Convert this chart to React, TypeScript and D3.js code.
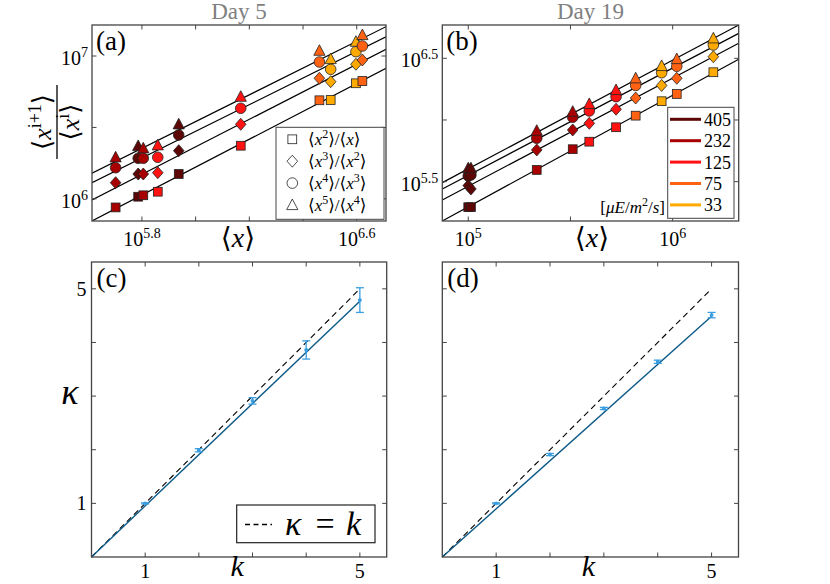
import React from "react";
import * as d3 from "d3";

const FONT = "'Liberation Serif','DejaVu Serif',serif";

// Light intensity levels [µE/m²/s] and their colours
const lightLevels = [405, 232, 125, 75, 33];
const lightColors = ["#5c0606", "#a80000", "#ff1212", "#ff6212", "#ffaa00"];

// Panel (a) – Day 5 : log10 <x> and log10 of the moment ratios
const day5Light = [232, 405, 232, 125, 405, 125, 75, 33, 33, 75];
const day5LogX = [5.702, 5.786, 5.805, 5.859, 5.937, 6.168, 6.461, 6.503, 6.597, 6.621];
const day5LogR2 = [5.94, 6.015, 6.025, 6.05, 6.174, 6.372, 6.69, 6.692, 6.809, 6.825];
const day5LogR3 = [6.113, 6.174, 6.174, 6.183, 6.337, 6.522, 6.844, 6.82, 6.942, 6.972];
const day5LogR4 = [6.218, 6.284, 6.284, 6.291, 6.447, 6.634, 6.958, 6.907, 7.03, 7.07];
const day5LogR5 = [6.291, 6.37, 6.354, 6.375, 6.522, 6.715, 7.037, 6.979, 7.1, 7.147];
// fitted lines: log10 y = a + b log10 x
const day5FitA = [0.366, 0.586, 0.875, 0.919];
const day5FitB = [0.976, 0.963, 0.933, 0.937];

// Panel (b) – Day 19
const day19Light = [405, 405, 232, 232, 125, 125, 75, 33, 75, 33];
const day19LogX = [5.0, 5.013, 5.335, 5.511, 5.592, 5.723, 5.819, 5.946, 6.02, 6.199];
const day19LogR2 = [5.293, 5.293, 5.595, 5.763, 5.824, 5.941, 6.035, 6.152, 6.211, 6.387];
const day19LogR3 = [5.468, 5.441, 5.757, 5.919, 5.973, 6.087, 6.178, 6.28, 6.338, 6.513];
const day19LogR4 = [5.546, 5.554, 5.852, 6.022, 6.073, 6.189, 6.28, 6.383, 6.435, 6.608];
const day19LogR5 = [5.609, 5.609, 5.913, 6.067, 6.13, 6.243, 6.338, 6.438, 6.494, 6.662];
const day19FitA = [0.776, 1.083, 1.201, 1.199];
const day19FitB = [0.904, 0.876, 0.87, 0.881];

const ratioNum = ["2", "3", "4", "5"];
const ratioDen = ["", "2", "3", "4"];
const markerShapes = ["square", "diamond", "circle", "triangle"];

// Panels (c), (d)
const kValues = [1, 2, 3, 4, 5];
const kappaDay5 = [1.0, 1.99, 2.91, 3.86, 4.79];
const kappaErrDay5 = [0.01, 0.03, 0.06, 0.17, 0.23];
const kappaDay19 = [1.0, 1.91, 2.77, 3.64, 4.51];
const kappaErrDay19 = [0.01, 0.02, 0.02, 0.03, 0.05];
const kappaFitSlope = [0.954, 0.898];

const FRAME = "#444";

type Box = { x0: number; x1: number; y0: number; y1: number };

function Marker({ shape, cx, cy, fill }: { shape: string; cx: number; cy: number; fill: string }) {
  const st = { fill, stroke: "#222", strokeWidth: 0.8 };
  if (shape === "square") return <rect x={cx - 4.4} y={cy - 4.4} width={8.8} height={8.8} {...st} />;
  if (shape === "diamond")
    return <path d={`M${cx},${cy - 6}L${cx + 5.3},${cy}L${cx},${cy + 6}L${cx - 5.3},${cy}Z`} {...st} />;
  if (shape === "circle") return <circle cx={cx} cy={cy} r={5.3} {...st} />;
  return <path d={`M${cx},${cy - 6}L${cx + 5.6},${cy + 4.6}L${cx - 5.6},${cy + 4.6}Z`} {...st} />;
}

function Frame({ box, xt, yt }: { box: Box; xt: number[]; yt: number[] }) {
  const L = 4.5;
  return (
    <g stroke={FRAME} strokeWidth={1}>
      {xt.map((x, i) => (
        <g key={"x" + i}>
          <line x1={x} x2={x} y1={box.y1} y2={box.y1 - L} />
          <line x1={x} x2={x} y1={box.y0} y2={box.y0 + L} />
        </g>
      ))}
      {yt.map((y, i) => (
        <g key={"y" + i}>
          <line x1={box.x0} x2={box.x0 + L} y1={y} y2={y} />
          <line x1={box.x1} x2={box.x1 - L} y1={y} y2={y} />
        </g>
      ))}
      <rect x={box.x0} y={box.y0} width={box.x1 - box.x0} height={box.y1 - box.y0} fill="none" strokeWidth={1.3} />
    </g>
  );
}

function PowLabel({ x, y, exp, anchor }: { x: number; y: number; exp: string; anchor: string }) {
  return (
    <text x={x} y={y} textAnchor={anchor} fontFamily={FONT} fontSize={20} fill="#000">
      10
      <tspan dy={-8} fontSize={14}>
        {exp}
      </tspan>
    </text>
  );
}

function AngleX({ x, y, size }: { x: number; y: number; size: number }) {
  return (
    <text x={x} y={y} textAnchor="middle" fontFamily={FONT} fontSize={size}>
      ⟨<tspan fontStyle="italic">x</tspan>⟩
    </text>
  );
}

function LogPanel(props: {
  id: string;
  box: Box;
  xDom: [number, number];
  yDom: [number, number];
  xTicks: number[];
  xLabels: number[];
  yTicks: number[];
  yLabels: number[];
  light: number[];
  logX: number[];
  ratios: number[][];
  fitA: number[];
  fitB: number[];
  tag: string;
  title: string;
}) {
  const { box } = props;
  const xs = d3.scaleLog().domain(props.xDom.map((v) => 10 ** v)).range([box.x0, box.x1]);
  const ys = d3.scaleLog().domain(props.yDom.map((v) => 10 ** v)).range([box.y1, box.y0]);
  const colorOf = (l: number) => lightColors[lightLevels.indexOf(l)];
  return (
    <g>
      <defs>
        <clipPath id={"clip" + props.id}>
          <rect x={box.x0} y={box.y0} width={box.x1 - box.x0} height={box.y1 - box.y0} />
        </clipPath>
      </defs>
      <text x={(box.x0 + box.x1) / 2} y={19} textAnchor="middle" fontFamily={FONT} fontSize={23} fill="#808080">
        {props.title}
      </text>
      <g clipPath={`url(#clip${props.id})`}>
        {props.fitA.map((a, s) => {
          const lx = [props.xDom[0], props.xDom[1]];
          const pts = lx.map((v) => [xs(10 ** v), ys(10 ** (a + props.fitB[s] * v))] as [number, number]);
          return <path key={s} d={d3.line()(pts) || ""} stroke="#000" strokeWidth={1.2} fill="none" />;
        })}
      </g>
      {props.logX.map((lx, g) => (
        <g key={g}>
          {props.ratios.map((r, s) => (
            <Marker
              key={s}
              shape={markerShapes[s]}
              cx={xs(10 ** lx)}
              cy={ys(10 ** r[g])}
              fill={colorOf(props.light[g])}
            />
          ))}
        </g>
      ))}
      <Frame box={box} xt={props.xTicks.map((v) => xs(10 ** v))} yt={props.yTicks.map((v) => ys(10 ** v))} />
      {props.xLabels.map((v, i) => (
        <PowLabel key={"xl" + i} x={xs(10 ** v)} y={box.y1 + 25} exp={String(v)} anchor="middle" />
      ))}
      {props.yLabels.map((v, i) => (
        <PowLabel key={"yl" + i} x={box.x0 - 4} y={ys(10 ** v) + 9} exp={String(v)} anchor="end" />
      ))}
      <text x={box.x0 + 4} y={box.y0 + 25} fontFamily={FONT} fontSize={27}>
        {props.tag}
      </text>
    </g>
  );
}

function LinPanel(props: {
  id: string;
  box: Box;
  kappa: number[];
  err: number[];
  slope: number;
  tag: string;
  yLabels: boolean;
}) {
  const { box } = props;
  const xs = d3.scaleLinear().domain([0, 5.5]).range([box.x0, box.x1]);
  const ys = d3.scaleLinear().domain([0, 5.5]).range([box.y1, box.y0]);
  const fitPts: [number, number][] = [0, 5].map((k) => [xs(k), ys(props.slope * k)]);
  const idPts: [number, number][] = [0, 5].map((k) => [xs(k), ys(k)]);
  const ln = d3.line();
  const ebColor = "#3a9ee0";
  return (
    <g>
      <path d={ln(idPts) || ""} stroke="#000" strokeWidth={1.1} strokeDasharray="6,4" fill="none" />
      <path d={ln(fitPts) || ""} stroke="#0d5a88" strokeWidth={1.4} fill="none" />
      {kValues.map((k, i) => {
        const x = xs(k);
        const yt = ys(props.kappa[i] + props.err[i]);
        const yb = ys(props.kappa[i] - props.err[i]);
        return (
          <g key={i} stroke={ebColor} strokeWidth={1.3}>
            <line x1={x} x2={x} y1={yt} y2={yb} />
            <line x1={x - 4} x2={x + 4} y1={yt} y2={yt} />
            <line x1={x - 4} x2={x + 4} y1={yb} y2={yb} />
            <circle cx={x} cy={ys(props.kappa[i])} r={1.3} fill={ebColor} />
          </g>
        );
      })}
      <Frame box={box} xt={kValues.map((k) => xs(k))} yt={kValues.map((k) => ys(k))} />
      {[1, 5].map((k) => (
        <text key={"xl" + k} x={xs(k)} y={box.y1 + 21} textAnchor="middle" fontFamily={FONT} fontSize={20}>
          {k}
        </text>
      ))}
      {props.yLabels &&
        [1, 5].map((k) => (
          <text key={"yl" + k} x={box.x0 - 5} y={ys(k) + 7} textAnchor="end" fontFamily={FONT} fontSize={20}>
            {k}
          </text>
        ))}
      <text x={(box.x0 + box.x1) / 2 - 2} y={576} textAnchor="middle" fontFamily={FONT} fontSize={30} fontStyle="italic">
        k
      </text>
      <text x={box.x0 + 5} y={box.y0 + 25} fontFamily={FONT} fontSize={27}>
        {props.tag}
      </text>
    </g>
  );
}

export default function App() {
  const boxA: Box = { x0: 92, x1: 386, y0: 25, y1: 221 };
  const boxB: Box = { x0: 442.3, x1: 738.7, y0: 25, y1: 221 };
  const boxC: Box = { x0: 91.5, x1: 386.7, y0: 262, y1: 557 };
  const boxD: Box = { x0: 442.3, x1: 738.5, y0: 262, y1: 557 };
  return (
    <svg width={830} height={584} style={{ position: "absolute", left: 0, top: 0, background: "#fff" }}>
      <rect width={830} height={584} fill="#fff" />
      <LogPanel
        id="a"
        box={boxA}
        xDom={[5.614, 6.709]}
        yDom={[5.845, 7.217]}
        xTicks={[5.8, 6.0, 6.2, 6.4, 6.6]}
        xLabels={[5.8, 6.6]}
        yTicks={[6, 6.5, 7]}
        yLabels={[6, 7]}
        light={day5Light}
        logX={day5LogX}
        ratios={[day5LogR2, day5LogR3, day5LogR4, day5LogR5]}
        fitA={day5FitA}
        fitB={day5FitB}
        tag="(a)"
        title="Day 5"
      />
      <LogPanel
        id="b"
        box={boxB}
        xDom={[4.873, 6.323]}
        yDom={[5.181, 6.77]}
        xTicks={[5, 5.5, 6]}
        xLabels={[5, 6]}
        yTicks={[5.5, 6, 6.5]}
        yLabels={[5.5, 6.5]}
        light={day19Light}
        logX={day19LogX}
        ratios={[day19LogR2, day19LogR3, day19LogR4, day19LogR5]}
        fitA={day19FitA}
        fitB={day19FitB}
        tag="(b)"
        title="Day 19"
      />
      <AngleX x={238} y={247} size={28} />
      <AngleX x={592} y={247} size={28} />

      {/* y label of (a) */}
      <g transform="translate(57,122) rotate(-90)" fontFamily={FONT}>
        <line x1={-37} x2={37} y1={0} y2={0} stroke="#000" strokeWidth={1.3} />
        <text x={0} y={-6} textAnchor="middle" fontSize={26}>
          ⟨<tspan fontStyle="italic">x</tspan>
          <tspan dy={-10} fontSize={18}>
            i+1
          </tspan>
          <tspan dy={10}>⟩</tspan>
        </text>
        <text x={0} y={22} textAnchor="middle" fontSize={26}>
          ⟨<tspan fontStyle="italic">x</tspan>
          <tspan dy={-10} fontSize={18}>
            i
          </tspan>
          <tspan dy={10}>⟩</tspan>
        </text>
      </g>

      {/* legend (a) */}
      <g fontFamily={FONT}>
        <rect x={276} y={127.3} width={108} height={92} fill="#fff" stroke={FRAME} strokeWidth={1} />
        {ratioNum.map((n, i) => {
          const cy = 139.3 + i * 21.9;
          return (
            <g key={i}>
              <Marker shape={markerShapes[i]} cx={292.3} cy={cy} fill="#fff" />
              <text x={308} y={cy + 6} fontSize={17}>
                ⟨<tspan fontStyle="italic">x</tspan>
                <tspan dy={-7} fontSize={12}>
                  {n}
                </tspan>
                <tspan dy={7}>⟩/⟨</tspan>
                <tspan fontStyle="italic">x</tspan>
                {ratioDen[i] ? (
                  <>
                    <tspan dy={-7} fontSize={12}>
                      {ratioDen[i]}
                    </tspan>
                    <tspan dy={7}>⟩</tspan>
                  </>
                ) : (
                  <tspan>⟩</tspan>
                )}
              </text>
            </g>
          );
        })}
      </g>

      {/* legend (b) */}
      <g fontFamily={FONT}>
        <rect x={667.7} y={107.3} width={66.3} height={111} fill="#fff" stroke={FRAME} strokeWidth={1} />
        {lightLevels.map((l, i) => {
          const cy = 119.3 + i * 21.4;
          return (
            <g key={l}>
              <line x1={670} x2={701} y1={cy} y2={cy} stroke={lightColors[i]} strokeWidth={3} />
              <text x={704} y={cy + 6.5} fontSize={18}>
                {l}
              </text>
            </g>
          );
        })}
        <text x={665} y={213} textAnchor="end" fontSize={17}>
          [<tspan fontStyle="italic">μE</tspan>/<tspan fontStyle="italic">m</tspan>
          <tspan dy={-7} fontSize={12}>
            2
          </tspan>
          <tspan dy={7}>/</tspan>
          <tspan fontStyle="italic">s</tspan>]
        </text>
      </g>

      <LinPanel id="c" box={boxC} kappa={kappaDay5} err={kappaErrDay5} slope={kappaFitSlope[0]} tag="(c)" yLabels={true} />
      <LinPanel id="d" box={boxD} kappa={kappaDay19} err={kappaErrDay19} slope={kappaFitSlope[1]} tag="(d)" yLabels={false} />

      <text x={70} y={404} textAnchor="middle" fontFamily={FONT} fontSize={36} fontStyle="italic">
        κ
      </text>

      {/* legend (c) */}
      <g fontFamily={FONT}>
        <rect x={236.7} y={505} width={138.3} height={37.7} fill="#fff" stroke="#222" strokeWidth={1.2} />
        <line x1={245} x2={272} y1={524.5} y2={524.5} stroke="#000" strokeWidth={1.6} strokeDasharray="5,3.5" />
        <text x={285} y={535} fontSize={34} fontStyle="italic">
          κ
        </text>
        <text x={325} y={535} textAnchor="middle" fontSize={34}>
          =
        </text>
        <text x={346} y={535} fontSize={34} fontStyle="italic">
          k
        </text>
      </g>
    </svg>
  );
}
